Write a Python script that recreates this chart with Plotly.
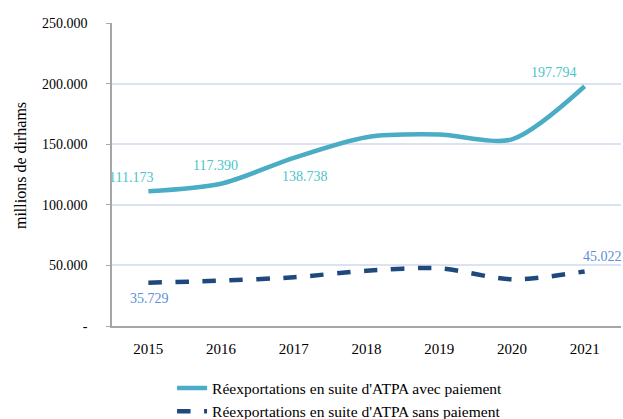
import plotly.graph_objects as go

years = ["2015", "2016", "2017", "2018", "2019", "2020", "2021"]
avec_paiement = [111173, 117390, 138738, 155800, 158000, 154000, 197794]
sans_paiement = [35729, 37400, 40200, 45600, 47600, 38500, 45022]
y_ticks = [0, 50000, 100000, 150000, 200000, 250000]
y_tick_labels = ["-", "50.000", "100.000", "150.000", "200.000", "250.000"]
y_title = "millions de dirhams"

name_avec = "Réexportations en suite d'ATPA avec paiement"
name_sans = "Réexportations en suite d'ATPA sans paiement"

FONT = "Liberation Serif"
C_AVEC = "#4BACC6"
C_SANS = "#1F497D"
C_LBL_AVEC = "#4BC5C9"
C_LBL_SANS = "#5B8ED6"


def fmt(v):
    return f"{v:,}".replace(",", ".")


fig = go.Figure()
fig.add_trace(go.Scatter(
    x=years, y=avec_paiement, mode="lines", name=name_avec,
    line=dict(color=C_AVEC, width=4.5, shape="spline", smoothing=0.8),
))
fig.add_trace(go.Scatter(
    x=years, y=sans_paiement, mode="lines", name=name_sans,
    line=dict(color=C_SANS, width=4.5, shape="spline", smoothing=0.8, dash="dash"),
))

# data labels: (series, index, colour, xshift, yshift)
labels = [
    (avec_paiement, 0, C_LBL_AVEC, -17, 14),
    (avec_paiement, 1, C_LBL_AVEC, -6, 18),
    (avec_paiement, 2, C_LBL_AVEC, 11, -19),
    (avec_paiement, 6, C_LBL_AVEC, -31, 14),
    (sans_paiement, 0, C_LBL_SANS, 1, -16),
    (sans_paiement, 6, C_LBL_SANS, 18, 15),
]
for series, i, col, dx, dy in labels:
    fig.add_annotation(
        x=i, y=series[i], xref="x", yref="y", text=fmt(series[i]),
        showarrow=False, xshift=dx, yshift=dy,
        font=dict(family=FONT, size=14, color=col),
    )

# vertical axis title
fig.add_annotation(
    x=-0.1807, y=0.528, xref="paper", yref="paper", text=y_title,
    textangle=-90, showarrow=False, xanchor="center", yanchor="middle",
    font=dict(family=FONT, size=16, color="black"),
)

fig.update_layout(
    width=623, height=419,
    margin=dict(l=112, r=2, t=23, b=93, autoexpand=False),
    paper_bgcolor="white", plot_bgcolor="white",
    font=dict(family=FONT, size=14, color="black"),
    showlegend=True,
    legend=dict(
        orientation="v", x=0.118, y=-0.15, xanchor="left", yanchor="top",
        font=dict(family=FONT, size=15.5, color="black"),
        tracegroupgap=0, bgcolor="rgba(0,0,0,0)",
    ),
)
fig.update_xaxes(
    type="category", range=[-0.5, 6.5],
    showline=True, linecolor="#A6A6A6", linewidth=1.5,
    showgrid=False, ticks="outside", ticklen=8, tickcolor="rgba(0,0,0,0)",
    tickfont=dict(family=FONT, size=15, color="black"),
)
fig.update_yaxes(
    range=[0, 250000], tickvals=y_ticks, ticktext=y_tick_labels,
    showline=True, linecolor="#A6A6A6", linewidth=1.5,
    showgrid=True, gridcolor="#DCE3F0", gridwidth=1.5,
    zeroline=False, ticks="outside", ticklen=4, tickcolor="#A6A6A6",
    ticklabelstandoff=16,
    tickfont=dict(family=FONT, size=14, color="black"),
)

fig.write_html("out.html")
